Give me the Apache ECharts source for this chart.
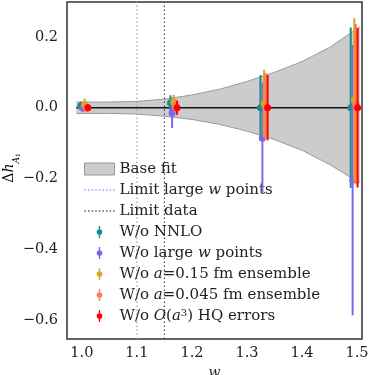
<!DOCTYPE html>
<html>
<head>
<meta charset="utf-8">
<script src="https://cdn.jsdelivr.net/npm/echarts@6/dist/echarts.min.js"></script>
<style>
  html, body { margin: 0; padding: 0; background: #fff; }
  #chart { width: 374px; height: 375px; }
</style>
</head>
<body>
<div id="chart"></div>
<script>
// base fit band (read from the grey region)
var bandW  = [0.99, 1.05, 1.10, 1.15, 1.20, 1.25, 1.30, 1.35, 1.40, 1.45, 1.505];
var bandHi = [0.016, 0.016, 0.018, 0.024, 0.036, 0.052, 0.074, 0.100, 0.130, 0.170, 0.228];
var bandLo = [-0.016, -0.016, -0.018, -0.024, -0.033, -0.047, -0.066, -0.090, -0.120, -0.160, -0.212];

// central fit line
var fitW = [0.99, 1.505];
var fitY = [0, 0];

// vertical limits
var limitLargeW = 1.1;
var limitData = 1.15;

// error bar points: w, central value, half error
var nnloW   = [0.998, 1.161, 1.3245, 1.4885];
var nnloY   = [0.005, 0.013, 0.0, 0.0];
var nnloErr = [0.012, 0.022, 0.092, 0.226];

var largeW   = [1.0015, 1.164, 1.328, 1.492];
var largeY   = [0.0, -0.015, -0.086, -0.204];
var largeErr = [0.012, 0.042, 0.157, 0.381];

var a015W   = [1.005, 1.167, 1.331, 1.495];
var a015Y   = [0.008, 0.016, 0.012, 0.022];
var a015Err = [0.018, 0.02, 0.095, 0.23];

var a045W   = [1.0085, 1.170, 1.334, 1.498];
var a045Y   = [0.0, 0.005, 0.005, 0.01];
var a045Err = [0.012, 0.02, 0.093, 0.226];

var hqW   = [1.011, 1.173, 1.3375, 1.501];
var hqY   = [0.0, 0.0, 0.0, 0.0];
var hqErr = [0.01, 0.02, 0.092, 0.225];

var xTicks = [1.0, 1.1, 1.2, 1.3, 1.4, 1.5];
var yTicks = [-0.6, -0.4, -0.2, 0.0, 0.2];

var FONT = 'DejaVu Serif';
var yMin = -0.652, yMax = 0.298;

function zip(a, b, c) {
  return a.map(function (v, i) { return c ? [v, b[i], c[i]] : [v, b[i]]; });
}

// draws one error bar + marker
function errBar(color) {
  return function (params, api) {
    var x = api.value(0), y = api.value(1), e = api.value(2);
    var top = api.coord([x, y + e]);
    var bot = api.coord([x, y - e]);
    var mid = api.coord([x, y]);
    return {
      type: 'group',
      children: [
        { type: 'line', shape: { x1: top[0], y1: top[1], x2: bot[0], y2: bot[1] },
          style: { stroke: color, lineWidth: 2 } },
        { type: 'circle', shape: { cx: mid[0], cy: mid[1], r: 3.5 },
          style: { fill: color } }
      ]
    };
  };
}

function errSeries(name, color, w, y, err) {
  return {
    name: name,
    type: 'custom',
    renderItem: errBar(color),
    itemStyle: { color: color },
    encode: { x: 0, y: 1 },
    data: zip(w, y, err),
    z: 5
  };
}

var barIcon = 'path://M-0.8,-7 L0.8,-7 L0.8,7 L-0.8,7 Z M0,-3.3 A3.3,3.3 0 1 1 0,3.3 A3.3,3.3 0 1 1 0,-3.3 Z';
// row of small dots for the dotted-line legend entries
var dotIcon = 'path://M0,0 h1.4 v1.4 h-1.4 Z M3.6,0 h1.4 v1.4 h-1.4 Z M7.2,0 h1.4 v1.4 h-1.4 Z M10.8,0 h1.4 v1.4 h-1.4 Z ' +
  'M14.4,0 h1.4 v1.4 h-1.4 Z M18,0 h1.4 v1.4 h-1.4 Z M21.6,0 h1.4 v1.4 h-1.4 Z M25.2,0 h1.4 v1.4 h-1.4 Z M28.6,0 h1.4 v1.4 h-1.4 Z';

var names = {
  'Base fit': 'Base fit',
  'Limit large w points': 'Limit large {i|w} points',
  'Limit data': 'Limit data',
  'W/o NNLO': 'W/o NNLO',
  'W/o large w points': 'W/o large {i|w} points',
  'W/o a=0.15 fm ensemble': 'W/o {i|a}=0.15 fm ensemble',
  'W/o a=0.045 fm ensemble': 'W/o {i|a}=0.045 fm ensemble',
  'W/o O(a3) HQ errors': 'W/o {i|O}({i|a}{sup|3}) HQ errors'
};

var chart = echarts.init(document.getElementById('chart'));
chart.setOption({
  animation: false,
  grid: {
    left: 67, right: 12, top: 2, bottom: 36,
    outerBoundsMode: 'none',
    show: true, borderColor: '#333', borderWidth: 1.5
  },
  // y axis title, placed by hand so the subscripts sit right
  graphic: [{
    type: 'text',
    x: 12,
    y: 168,
    rotation: Math.PI / 2,
    style: {
      text: '{d|Δ}{i|h}{s|A}{ss|1}',
      align: 'center',
      verticalAlign: 'middle',
      rich: {
        d: { fontFamily: FONT, fontSize: 14, color: '#222', lineHeight: 17, verticalAlign: 'top' },
        i: { fontFamily: FONT, fontStyle: 'italic', fontSize: 14, color: '#222', lineHeight: 17, verticalAlign: 'top' },
        s: { fontFamily: FONT, fontStyle: 'italic', fontSize: 9, color: '#222', lineHeight: 18, verticalAlign: 'bottom' },
        ss: { fontFamily: FONT, fontSize: 6, color: '#222', lineHeight: 19, verticalAlign: 'bottom' }
      }
    }
  }],
  legend: {
    orient: 'vertical',
    left: 79,
    top: 156,
    itemWidth: 30,
    itemHeight: 12,
    itemGap: 5,
    textStyle: {
      fontFamily: FONT, fontSize: 15, lineHeight: 16, color: '#222',
      rich: {
        i: { fontFamily: FONT, fontStyle: 'italic', fontSize: 15, color: '#222' },
        sup: { fontFamily: FONT, fontSize: 10, color: '#222', verticalAlign: 'top' }
      }
    },
    formatter: function (n) { return names[n] || n; },
    data: [
      { name: 'Base fit', icon: 'rect', itemStyle: { color: '#cccccc', borderColor: '#9a9a9a', borderWidth: 1 } },
      { name: 'Limit large w points', icon: dotIcon, itemStyle: { color: '#9b96f0' } },
      { name: 'Limit data', icon: dotIcon, itemStyle: { color: '#555' } },
      { name: 'W/o NNLO', icon: barIcon },
      { name: 'W/o large w points', icon: barIcon },
      { name: 'W/o a=0.15 fm ensemble', icon: barIcon },
      { name: 'W/o a=0.045 fm ensemble', icon: barIcon },
      { name: 'W/o O(a3) HQ errors', icon: barIcon }
    ]
  },
  xAxis: {
    type: 'value',
    min: 0.973,
    max: 1.509,
    name: 'w',
    nameLocation: 'middle',
    nameGap: 25,
    nameTextStyle: { fontFamily: FONT, fontStyle: 'italic', fontSize: 14, color: '#222' },
    axisLine: { show: false },
    axisTick: { show: false },
    splitLine: { show: false },
    axisLabel: {
      customValues: xTicks,
      margin: 7,
      fontFamily: FONT, fontSize: 14.5, color: '#222',
      formatter: function (v) { return v.toFixed(1); }
    }
  },
  yAxis: {
    type: 'value',
    min: yMin,
    max: yMax,
    axisLine: { show: false },
    axisTick: { show: false },
    splitLine: { show: false },
    axisLabel: {
      customValues: yTicks,
      margin: 9,
      fontFamily: FONT, fontSize: 14.5, color: '#222',
      formatter: function (v) {
        var s = Math.abs(v).toFixed(1);
        return v < -1e-9 ? '\u2212' + s : s;
      }
    }
  },
  series: [
    {
      name: 'Base fit', type: 'line', data: zip(bandW, bandHi), symbol: 'none',
      lineStyle: { color: '#9a9a9a', width: 1 },
      itemStyle: { color: '#cccccc' },
      areaStyle: { color: '#cccccc', opacity: 1 }, z: 1
    },
    {
      name: 'Base fit', type: 'line', data: zip(bandW, bandLo), symbol: 'none',
      lineStyle: { color: '#9a9a9a', width: 1 },
      itemStyle: { color: '#cccccc' },
      areaStyle: { color: '#cccccc', opacity: 1 }, z: 1
    },
    {
      name: 'Limit large w points', type: 'line', symbol: 'none',
      data: [[limitLargeW, yMin], [limitLargeW, yMax]],
      lineStyle: { color: '#9b96f0', width: 1.2, type: [1.5, 2.5] },
      itemStyle: { color: '#9b96f0' }, z: 2
    },
    {
      name: 'Limit data', type: 'line', symbol: 'none',
      data: [[limitData, yMin], [limitData, yMax]],
      lineStyle: { color: '#444', width: 1.2, type: [1.5, 2.5] },
      itemStyle: { color: '#444' }, z: 2
    },
    {
      name: 'fit', type: 'line', symbol: 'none', data: zip(fitW, fitY),
      lineStyle: { color: '#111', width: 1.5 }, z: 3
    },
    errSeries('W/o NNLO', '#1b8a8a', nnloW, nnloY, nnloErr),
    errSeries('W/o large w points', '#7b68ee', largeW, largeY, largeErr),
    errSeries('W/o a=0.15 fm ensemble', '#daa520', a015W, a015Y, a015Err),
    errSeries('W/o a=0.045 fm ensemble', '#ff7f50', a045W, a045Y, a045Err),
    errSeries('W/o O(a3) HQ errors', '#ff0000', hqW, hqY, hqErr)
  ]
});
</script>
</body>
</html>
